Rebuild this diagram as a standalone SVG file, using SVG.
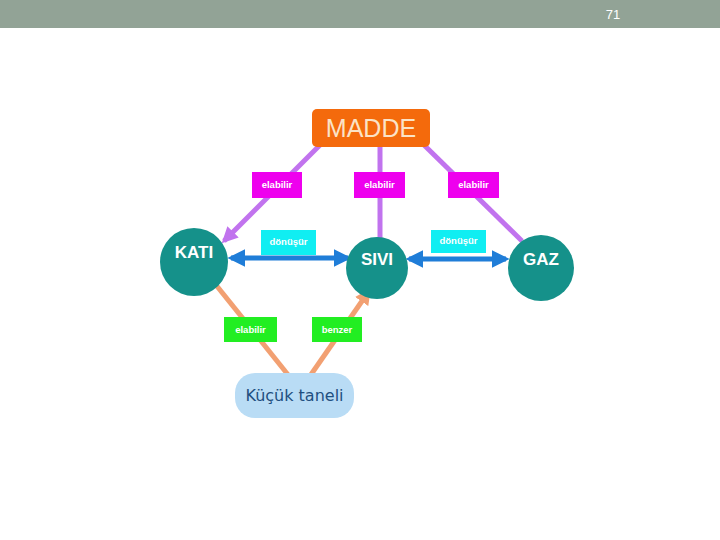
<svg xmlns="http://www.w3.org/2000/svg" width="720" height="540" viewBox="0 0 720 540">
<style>
.lbl{font-family:"Liberation Sans",Arial,sans-serif;font-size:9.5px;font-weight:bold;fill:#ffffff;text-anchor:middle}
.node{font-family:"Liberation Sans",Arial,sans-serif;font-size:17px;font-weight:bold;fill:#ffffff;text-anchor:middle}
.circ{fill:#15918a}
.pur{stroke:#c173ee;stroke-width:5;fill:none}
.blu{stroke:#1f7dd8;stroke-width:5;fill:none}
.org{stroke:#f2a072;stroke-width:5;fill:none}
.mag{fill:#ee00ee}
.cya{fill:#10eef2}
.grn{fill:#22ee22}
</style>
<defs>
<marker id="ap" viewBox="0 0 10 10" refX="8" refY="5" markerWidth="3.2" markerHeight="3.2" orient="auto-start-reverse"><path d="M0,0 L10,5 L0,10 z" fill="#c173ee"/></marker>
<marker id="ab" viewBox="0 0 10 10" refX="8" refY="5" markerWidth="3.6" markerHeight="3.6" orient="auto-start-reverse"><path d="M0,0 L10,5 L0,10 z" fill="#1f7dd8"/></marker>
<marker id="ao" viewBox="0 0 10 10" refX="8" refY="5" markerWidth="3.2" markerHeight="3.2" orient="auto-start-reverse"><path d="M0,0 L10,5 L0,10 z" fill="#f2a072"/></marker>
</defs>
<rect x="0" y="0" width="720" height="28" fill="#92a396"/>
<text x="613" y="19" font-family="Liberation Sans,Arial,sans-serif" font-size="13" fill="#ffffff" text-anchor="middle">71</text>
<g id="connectors">
<line class="pur" x1="320" y1="145" x2="224" y2="241" marker-end="url(#ap)"/>
<line class="pur" x1="380" y1="147" x2="380" y2="238"/>
<line class="pur" x1="424" y1="145" x2="522" y2="241"/>
<line class="blu" x1="231" y1="258" x2="348" y2="258" marker-start="url(#ab)" marker-end="url(#ab)"/>
<line class="blu" x1="409" y1="259" x2="506" y2="259" marker-start="url(#ab)" marker-end="url(#ab)"/>
<line class="org" x1="212" y1="280" x2="289" y2="376"/>
<line class="org" x1="310" y1="376" x2="369" y2="291" marker-end="url(#ao)"/>
</g>
<g id="madde">
<rect x="312" y="109" width="118" height="38" rx="5" fill="#f46a0c"/>
<text x="371" y="137" font-family="Liberation Sans,Arial,sans-serif" font-size="25" fill="#fbe3c6" text-anchor="middle">MADDE</text>
</g>
<g id="lbl1"><rect class="mag" x="252" y="172" width="50" height="26"/><text class="lbl" x="277" y="188">elabilir</text></g>
<g id="lbl2"><rect class="mag" x="354" y="172" width="51" height="26"/><text class="lbl" x="379.5" y="188">elabilir</text></g>
<g id="lbl3"><rect class="mag" x="448" y="172" width="51" height="26"/><text class="lbl" x="473.5" y="188">elabilir</text></g>
<g id="lbl4"><rect class="cya" x="261" y="230" width="55" height="25"/><text class="lbl" x="288.5" y="245">dönüşür</text></g>
<g id="lbl5"><rect class="cya" x="431" y="230" width="55" height="23"/><text class="lbl" x="458.5" y="244">dönüşür</text></g>
<g id="kati"><circle class="circ" cx="194" cy="262" r="34"/><text class="node" x="194" y="258">KATI</text></g>
<g id="sivi"><circle class="circ" cx="377" cy="268" r="31"/><text class="node" x="377" y="265">SIVI</text></g>
<g id="gaz"><circle class="circ" cx="541" cy="268" r="33"/><text class="node" x="541" y="265">GAZ</text></g>
<g id="lbl6"><rect class="grn" x="224" y="317" width="53" height="25"/><text class="lbl" x="250.5" y="333">elabilir</text></g>
<g id="lbl7"><rect class="grn" x="312" y="317" width="50" height="25"/><text class="lbl" x="337" y="333">benzer</text></g>
<g id="kucuk">
<rect x="235" y="373" width="119" height="45" rx="20" fill="#b9dcf5"/>
<text x="294.5" y="401" font-family="DejaVu Sans,sans-serif" font-size="16" fill="#1f4f80" text-anchor="middle">Küçük taneli</text>
</g>
</svg>
